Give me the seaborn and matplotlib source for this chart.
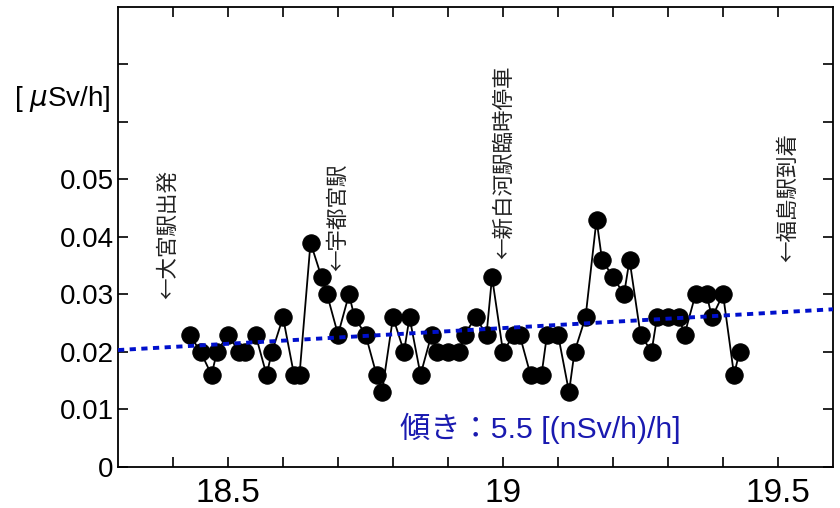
import numpy as np
import pandas as pd
import matplotlib
matplotlib.use('Agg')
import matplotlib.pyplot as plt
import seaborn as sns

# time [h] and dose rate [uSv/h]
hours = [18.43, 18.45, 18.47, 18.48, 18.50, 18.52, 18.53, 18.55, 18.57, 18.58,
         18.60, 18.62, 18.63, 18.65, 18.67, 18.68, 18.70, 18.72, 18.73, 18.75,
         18.77, 18.78, 18.80, 18.82, 18.83, 18.85, 18.87, 18.88, 18.90, 18.92,
         18.93, 18.95, 18.97, 18.98, 19.00, 19.02, 19.03, 19.05, 19.07, 19.08,
         19.10, 19.12, 19.13, 19.15, 19.17, 19.18, 19.20, 19.22, 19.23, 19.25,
         19.27, 19.28, 19.30, 19.32, 19.33, 19.35, 19.37, 19.38, 19.40, 19.42,
         19.43]
dose = [0.023, 0.020, 0.016, 0.020, 0.023, 0.020, 0.020, 0.023, 0.016, 0.020,
        0.026, 0.016, 0.016, 0.039, 0.033, 0.030, 0.023, 0.030, 0.026, 0.023,
        0.016, 0.013, 0.026, 0.020, 0.026, 0.016, 0.023, 0.020, 0.020, 0.020,
        0.023, 0.026, 0.023, 0.033, 0.020, 0.023, 0.023, 0.016, 0.016, 0.023,
        0.023, 0.013, 0.020, 0.026, 0.043, 0.036, 0.033, 0.030, 0.036, 0.023,
        0.020, 0.026, 0.026, 0.026, 0.023, 0.030, 0.030, 0.026, 0.030, 0.016,
        0.020]

trend_x = [18.3, 19.6]
trend_y = [0.0203, 0.0274]

stations = ['←大宮駅出発', '←宇都宮駅', '←新白河駅臨時停車', '←福島駅到着']
station_x = [18.391, 18.70, 19.001, 19.518]
station_y = [0.0291, 0.0340, 0.0362, 0.0357]

yticks = [0, 0.01, 0.02, 0.03, 0.04, 0.05, 0.06, 0.07]
ytick_labels = ['0', '0.01', '0.02', '0.03', '0.04', '0.05', '', '']
xticks = [18.4, 18.5, 18.6, 18.7, 18.8, 18.9, 19.0, 19.1, 19.2, 19.3, 19.4, 19.5]
xtick_labels = ['', '18.5', '', '', '', '', '19', '', '', '', '', '19.5']

sns.set_style('ticks')
plt.rcParams['font.family'] = ['Liberation Sans', 'Noto Sans CJK JP', 'DejaVu Sans']
plt.rcParams['text.color'] = 'black'
plt.rcParams['xtick.color'] = 'black'
plt.rcParams['ytick.color'] = 'black'
plt.rcParams['xtick.labelcolor'] = 'black'
plt.rcParams['ytick.labelcolor'] = 'black'

df = pd.DataFrame({'hour': hours, 'dose': dose})
trend = pd.DataFrame({'hour': trend_x, 'dose': trend_y})

fig = plt.figure(figsize=(8.4, 5.08), dpi=100)
ax = fig.add_axes([0.1405, 0.0813, 0.8512, 0.9049])

sns.lineplot(data=df, x='hour', y='dose', ax=ax, color='black', linewidth=1.3,
             marker='o', markersize=12.5, markeredgecolor='black', zorder=2)
sns.lineplot(data=trend, x='hour', y='dose', ax=ax, color='#0010cc', linewidth=2.8,
             linestyle=(0, (1.6, 1.4)), dash_capstyle='butt', zorder=3)

for name, sx, sy in zip(stations, station_x, station_y):
    ax.text(sx, sy, name, rotation=90, ha='center', va='bottom', fontsize=15.5,
            color='#222222', family=['Noto Sans CJK JP', 'DejaVu Sans'])

ax.text(18.812, 0.0066, '傾き：5.5 [(nSv/h)/h]', ha='left', va='center',
        fontsize=21.8, color='#1a1ab0',
        family=['Liberation Sans', 'Noto Sans CJK JP', 'DejaVu Sans'])

ax.text(-0.078, 0.064, '[ $\\mu$Sv/h]', transform=ax.get_yaxis_transform(),
        ha='center', va='center', fontsize=20, color='black')

ax.set_xlim(18.3, 19.6)
ax.set_ylim(0, 0.08)
ax.set_xticks(xticks)
ax.set_xticklabels(xtick_labels)
ax.set_yticks(yticks)
ax.set_yticklabels(ytick_labels)
ax.tick_params(axis='x', labelsize=24, pad=8)
ax.tick_params(axis='y', labelsize=20, pad=3)
ax.tick_params(direction='in', length=7, width=1.2, top=True, right=True,
               color='black', labelcolor='black')
ax.set_xlabel('')
ax.set_ylabel('')
for s in ax.spines.values():
    s.set_linewidth(1.3)
    s.set_color('black')

fig.savefig('out.png', dpi=100)
